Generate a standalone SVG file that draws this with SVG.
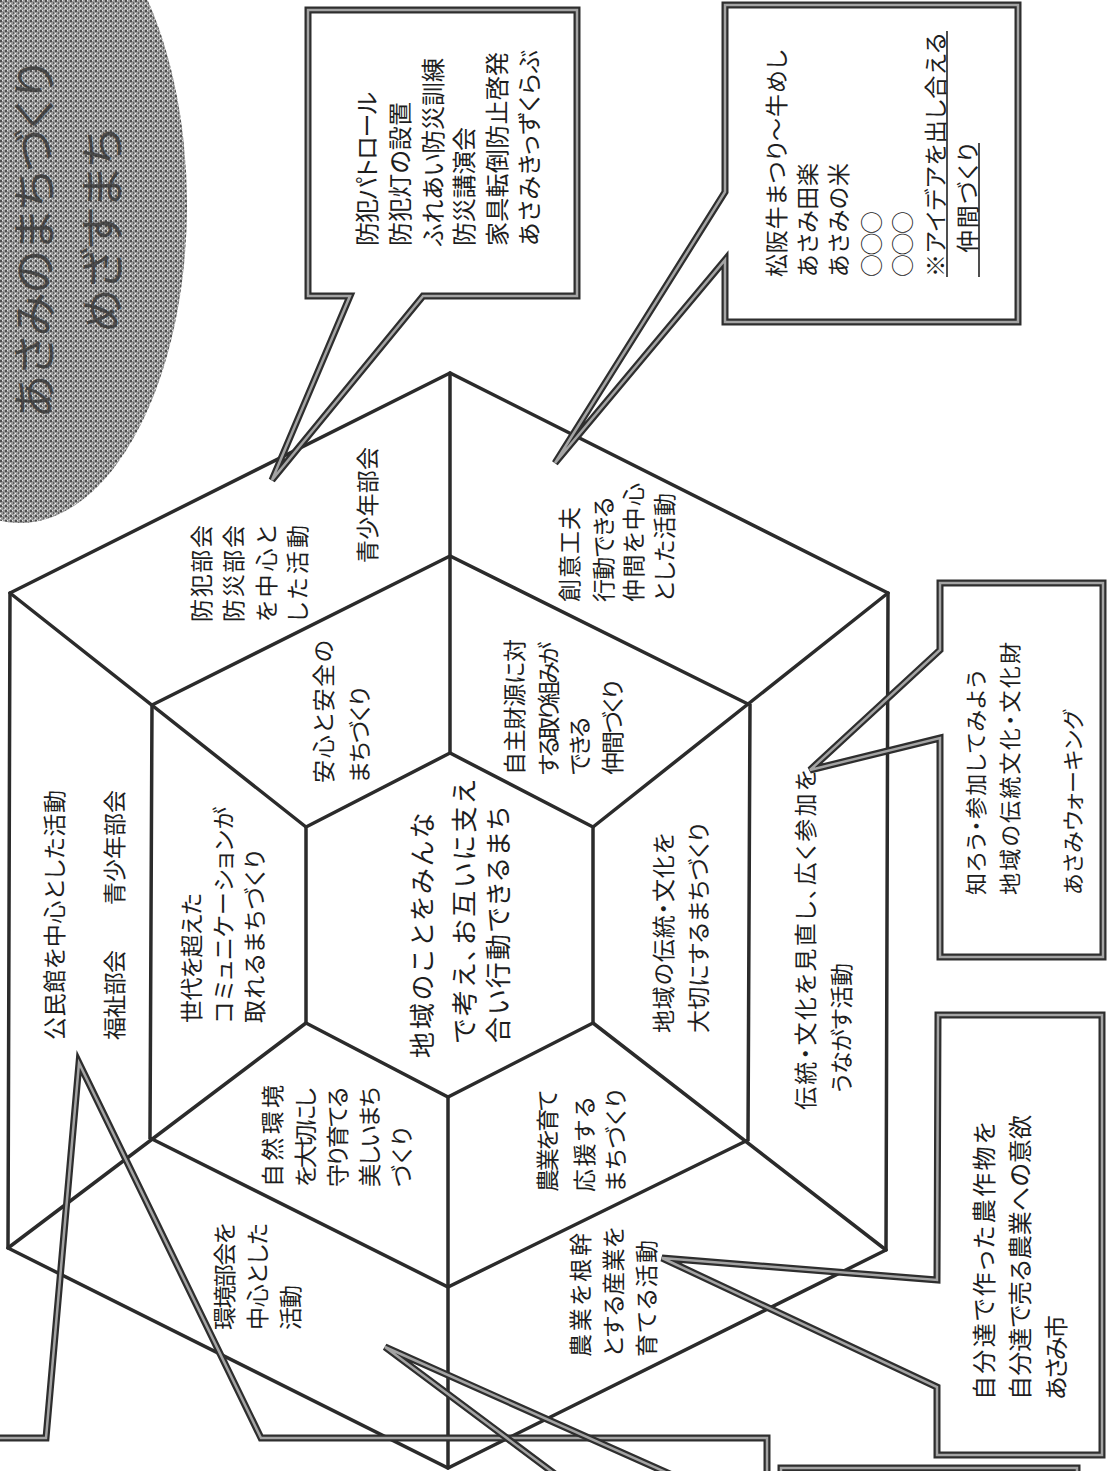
<svg xmlns="http://www.w3.org/2000/svg" width="1115" height="1471" viewBox="0 0 1115 1471">
<defs>
<pattern id="ht" width="5" height="5" patternUnits="userSpaceOnUse">
<rect width="5" height="5" fill="#9a9a9a"/>
<rect x="0" y="0" width="2" height="2" fill="#4e4e4e"/>
<rect x="3" y="2" width="1" height="2" fill="#5e5e5e"/>
<rect x="2" y="0" width="1" height="1" fill="#e6e6e6"/>
<rect x="0" y="3" width="1" height="1" fill="#efefef"/>
<rect x="4" y="4" width="1" height="1" fill="#d0d0d0"/>
</pattern>
</defs>
<style>
.frame{fill:none;stroke:#2b2b2b;stroke-width:3.5;stroke-linejoin:miter;stroke-linecap:round}
.co{fill:none;stroke:#2e2e2e;stroke-width:7;stroke-linejoin:miter}
.coi{fill:none;stroke:#a4a4a4;stroke-width:2.5;stroke-linejoin:miter}
.t{font-family:"Noto Sans CJK JP","Noto Sans CJK SC",sans-serif;font-size:23px;fill:#1e1e1e;dominant-baseline:central;font-feature-settings:"palt"}
.ul{stroke:#222;stroke-width:1.6}
</style>
<rect width="1115" height="1471" fill="#ffffff"/>

<g id="title">
<ellipse cx="20" cy="205" rx="167" ry="318" fill="url(#ht)"/>
<g transform="translate(32,418) rotate(-90)">
<text class="t" x="0" y="0" style="font-size:44px;fill:#333333;opacity:0.8">あさみのまちづくり</text>
<text class="t" x="85" y="68" style="font-size:44px;fill:#333333;opacity:0.8">めざすまち</text>
</g>
</g>

<g id="hexagon-frame">
<path class="frame" d="M450,373 L10,593 L8,1248 L448,1468 L886,1250 L888,593 Z"/>
<path class="frame" d="M450,556 L152,705 L150,1138 L448,1287 L748,1140 L750,705 Z"/>
<path class="frame" d="M450,753 L306,827 L306,1023 L448,1097 L593,1023 L593,827 Z"/>
<path class="frame" d="M450,373 L450,753 M448,1097 L448,1468 M10,593 L306,827 M8,1248 L306,1023 M888,593 L593,827 M886,1250 L593,1023"/>
</g>

<g id="callout-bohan">
<path class="co" d="M308,10 H577 V296 H423 L272,480 L350,296 H308 Z"/>
<path class="coi" d="M308,10 H577 V296 H423 L272,480 L350,296 H308 Z"/>
<g transform="translate(365,246) rotate(-90)">
<text class="t" x="0" y="0" textLength="154" style="font-size:24px">防犯パトロール</text>
<text class="t" x="0" y="33" textLength="144" style="font-size:24px">防犯灯の設置</text>
<text class="t" x="0" y="66" textLength="188" style="font-size:24px">ふれあい防災訓練</text>
<text class="t" x="0" y="97" textLength="119" style="font-size:24px">防災講演会</text>
<text class="t" x="0" y="130" textLength="194" style="font-size:24px">家具転倒防止啓発</text>
<text class="t" x="0" y="162" textLength="196" style="font-size:24px">あさみきっずくらぶ</text>
</g>
</g>

<g id="callout-event">
<path class="co" d="M725,5 H1018 V322 H725 V260 L555,463 L725,192 Z"/>
<path class="coi" d="M725,5 H1018 V322 H725 V260 L555,463 L725,192 Z"/>
<g transform="translate(775,277) rotate(-90)">
<text class="t" x="0" y="0" textLength="227">松阪牛まつり～牛めし</text>
<text class="t" x="0" y="31" textLength="114">あさみ田楽</text>
<text class="t" x="0" y="62" textLength="114">あさみの米</text>
<text class="t" x="0" y="95" textLength="66">○○○</text>
<text class="t" x="0" y="126" textLength="66">○○○</text>
<text class="t" x="0" y="159" textLength="244">※アイデアを出し合える</text>
<text class="t" x="24" y="191" textLength="110">仲間づくり</text>
</g>
<line class="ul" x1="947" y1="277" x2="947" y2="31"/>
<line class="ul" x1="979" y1="277" x2="979" y2="143"/>
</g>

<g id="callout-bunka">
<path class="co" d="M940,583 H1103 V957 H940 V738 L810,770 L940,650 Z"/>
<path class="coi" d="M940,583 H1103 V957 H940 V738 L810,770 L940,650 Z"/>
<g transform="translate(974,895) rotate(-90)">
<text class="t" x="0" y="0" textLength="225" style="font-size:22px">知ろう・参加してみよう</text>
<text class="t" x="0" y="34" textLength="253" style="font-size:22px">地域の伝統文化・文化財</text>
<text class="t" x="0" y="97" textLength="185" style="font-size:22px">あさみウォーキング</text>
</g>
</g>

<g id="callout-ichi">
<path class="co" d="M938,1015 H1102 V1455 H937 V1387 L662,1258 L937,1280 Z"/>
<path class="coi" d="M938,1015 H1102 V1455 H937 V1387 L662,1258 L937,1280 Z"/>
<g transform="translate(982,1400) rotate(-90)">
<text class="t" x="0" y="0" textLength="278" style="font-size:24px">自分達で作った農作物を</text>
<text class="t" x="0" y="36" textLength="285" style="font-size:24px">自分達で売る農業への意欲</text>
<text class="t" x="0" y="72" textLength="85" style="font-size:24px">あさみ市</text>
</g>
</g>

<g id="callout-bottom-left">
<path class="co" d="M-20,1438 H46 L79,1063 L261,1438 H767 V1495"/>
<path class="coi" d="M-20,1438 H46 L79,1063 L261,1438 H767 V1495"/>
</g>
<g id="callout-bottom-middle">
<path class="co" d="M583,1495 L385,1347 L717,1495"/>
<path class="coi" d="M583,1495 L385,1347 L717,1495"/>
</g>
<g id="callout-bottom-right">
<path class="co" d="M781,1500 V1468 H1077 V1500"/>
<path class="coi" d="M781,1500 V1468 H1077 V1500"/>
</g>

<g id="panel-kominkan" transform="translate(53,1040) rotate(-90)">
<text class="t" x="0" y="0" textLength="250">公民館を中心とした活動</text>
<text class="t" x="0" y="60" textLength="90">福祉部会</text>
<text class="t" x="135" y="60" textLength="115">青少年部会</text>
</g>

<g id="panel-bohan" transform="translate(200,622) rotate(-90)">
<text class="t" x="0" y="0" textLength="97">防犯部会</text>
<text class="t" x="0" y="32" textLength="97">防災部会</text>
<text class="t" x="0" y="65" textLength="97">を中心と</text>
<text class="t" x="0" y="96" textLength="97">した活動</text>
<text class="t" x="59" y="166" textLength="116">青少年部会</text>
</g>

<g id="panel-soui" transform="translate(568,602) rotate(-90)">
<text class="t" x="0" y="0" textLength="95">創意工夫</text>
<text class="t" x="0" y="34" textLength="105">行動できる</text>
<text class="t" x="0" y="64" textLength="119">仲間を中心</text>
<text class="t" x="0" y="95" textLength="109">とした活動</text>
</g>

<g id="panel-anshin" transform="translate(322,783) rotate(-90)">
<text class="t" x="0" y="0" textLength="143">安心と安全の</text>
<text class="t" x="0" y="36" textLength="96">まちづくり</text>
</g>

<g id="panel-jishu" transform="translate(513,775) rotate(-90)">
<text class="t" x="0" y="0" textLength="136">自主財源に対</text>
<text class="t" x="0" y="34" textLength="133">する取り組みが</text>
<text class="t" x="0" y="65" textLength="58">できる</text>
<text class="t" x="0" y="98" textLength="95">仲間づくり</text>
</g>

<g id="panel-sedai" transform="translate(190,1023) rotate(-90)">
<text class="t" x="0" y="0" textLength="130">世代を超えた</text>
<text class="t" x="0" y="32" textLength="216">コミュニケーションが</text>
<text class="t" x="0" y="63" textLength="173">取れるまちづくり</text>
</g>

<g id="panel-center" transform="translate(420,1058) rotate(-90)">
<text class="t" x="0" y="0" textLength="245" style="font-size:26px">地域のことをみんな</text>
<text class="t" x="15" y="42" textLength="263" style="font-size:26px">で考え、お互いに支え</text>
<text class="t" x="15" y="76" textLength="236" style="font-size:26px">合い行動できるまち</text>
</g>

<g id="panel-dento" transform="translate(662,1033) rotate(-90)">
<text class="t" x="0" y="0" textLength="200">地域の伝統・文化を</text>
<text class="t" x="0" y="35" textLength="210">大切にするまちづくり</text>
</g>

<g id="panel-dento-katsudo" transform="translate(804,1110) rotate(-90)">
<text class="t" x="0" y="0" textLength="340">伝統・文化を見直し、広く参加を</text>
<text class="t" x="17" y="36" textLength="130">うながす活動</text>
</g>

<g id="panel-shizen" transform="translate(271,1187) rotate(-90)">
<text class="t" x="0" y="0" textLength="102">自然環境</text>
<text class="t" x="0" y="33" textLength="99">を大切にし</text>
<text class="t" x="0" y="65" textLength="100">守り育てる</text>
<text class="t" x="0" y="97" textLength="100">美しいまち</text>
<text class="t" x="0" y="129" textLength="60">づくり</text>
</g>

<g id="panel-nogyo" transform="translate(546,1192) rotate(-90)">
<text class="t" x="0" y="0" textLength="102">農業を育て</text>
<text class="t" x="0" y="37" textLength="95">応援する</text>
<text class="t" x="0" y="68" textLength="103">まちづくり</text>
</g>

<g id="panel-kankyo" transform="translate(223,1330) rotate(-90)">
<text class="t" x="0" y="0" textLength="107">環境部会を</text>
<text class="t" x="0" y="33" textLength="107">中心とした</text>
<text class="t" x="0" y="66" textLength="45">活動</text>
</g>

<g id="panel-sangyo" transform="translate(579,1357) rotate(-90)">
<text class="t" x="0" y="0" textLength="124">農業を根幹</text>
<text class="t" x="0" y="33" textLength="130">とする産業を</text>
<text class="t" x="0" y="66" textLength="117">育てる活動</text>
</g>
</svg>
